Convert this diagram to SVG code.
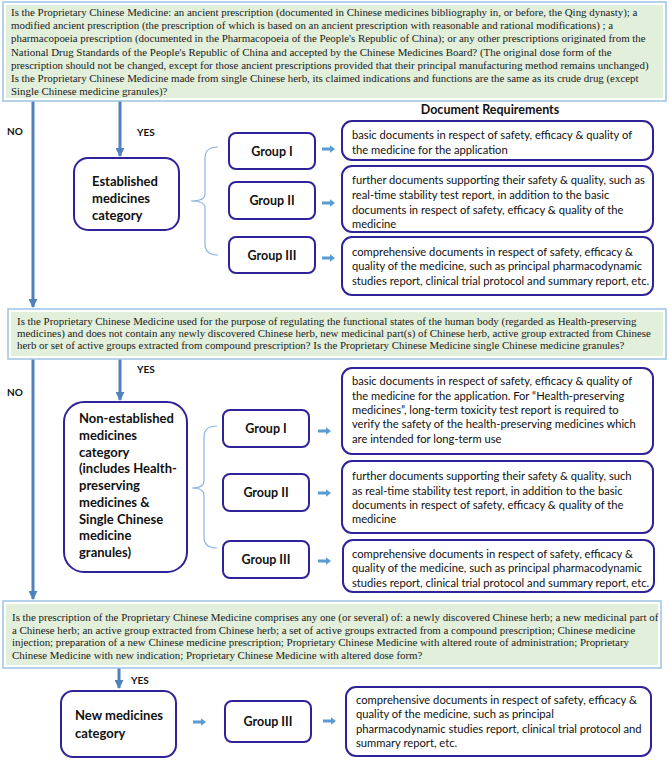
<svg xmlns="http://www.w3.org/2000/svg" width="669" height="760" viewBox="0 0 669 760">
<defs>
<style>
.qb{fill:#ffffff;stroke:#9dc3e6;stroke-width:1.5}
.qf{fill:#e2efda}
.qt{font-family:"Liberation Serif","Times New Roman",serif;font-size:10.9px;fill:#1a1a1a}
.rb{fill:#ffffff;stroke:#2f2399;stroke-width:2}
.bt{font-family:Lato,"Liberation Sans",sans-serif;font-weight:bold;fill:#111}
.cat{font-size:13px}
.grp{font-size:12.5px;text-anchor:middle}
.lbl{font-size:10px}
.dt{font-family:Lato,"Liberation Sans",sans-serif;font-size:11.2px;fill:#111}
.con{stroke:#4f81bd;stroke-width:3;fill:none}
.brace{stroke:#8eb4e3;stroke-width:1.2;fill:none}
</style>
<marker id="ah" viewBox="0 0 10 10" refX="9" refY="5" markerWidth="3" markerHeight="3" orient="auto" markerUnits="strokeWidth">
<path d="M0,0 L10,5 L0,10 z" fill="#4f81bd"/>
</marker>
<path id="ba" d="M0,-1.6 L8,-1.6 L8,-3.8 L13,0 L8,3.8 L8,1.6 L0,1.6 z" fill="#5b9bd5"/>
</defs>
<rect width="669" height="760" fill="#ffffff"/>

<g id="connectors">
<line class="con" x1="33" y1="101" x2="33" y2="307" marker-end="url(#ah)"/>
<line class="con" x1="120" y1="101" x2="120" y2="156" marker-end="url(#ah)"/>
<line class="con" x1="33" y1="359" x2="33" y2="599" marker-end="url(#ah)"/>
<line class="con" x1="120" y1="359" x2="120" y2="400" marker-end="url(#ah)"/>
<line class="con" x1="119" y1="668" x2="119" y2="688" marker-end="url(#ah)"/>
<path class="brace" d="M218,147 Q205,147 205,158 L205,194 Q205,201 191,201 Q205,201 205,208 L205,244 Q205,255 218,255"/>
<path class="brace" d="M217,426 Q204,426 204,437 L204,481 Q204,488 192,488 Q204,488 204,495 L204,537 Q204,548 217,548"/>
<use href="#ba" x="322" y="149"/>
<use href="#ba" x="322" y="203"/>
<use href="#ba" x="322" y="258"/>
<use href="#ba" x="318" y="431"/>
<use href="#ba" x="318" y="493"/>
<use href="#ba" x="318" y="561"/>
<use href="#ba" x="193" y="722"/>
<use href="#ba" x="323" y="721"/>
</g>

<g id="labels">
<text class="bt lbl" x="7" y="135">NO</text>
<text class="bt lbl" x="137" y="136">YES</text>
<text class="bt lbl" x="137" y="373">YES</text>
<text class="bt lbl" x="7" y="396">NO</text>
<text class="bt lbl" x="131" y="684">YES</text>
<text class="bt" x="490" y="114" font-size="12.5" text-anchor="middle">Document Requirements</text>
</g>

<g id="q1">
<rect class="qb" x="3" y="2" width="663" height="99"/>
<rect class="qf" x="6" y="5" width="657" height="93"/>
<text class="qt" x="11" y="16" font-size="11.1">Is the Proprietary Chinese Medicine: an ancient prescription (documented in Chinese medicines bibliography in, or before, the Qing dynasty); a</text>
<text class="qt" x="11" y="29.2" font-size="11.1">modified ancient prescription (the prescription of which is based on an ancient prescription with reasonable and rational modifications) ; a</text>
<text class="qt" x="11" y="42.4" font-size="11.1">pharmacopoeia prescription (documented in the Pharmacopoeia of the People's Republic of China); or any other prescriptions originated from the</text>
<text class="qt" x="11" y="55.6" font-size="11.1">National Drug Standards of the People's Republic of China and accepted by the Chinese Medicines Board? (The original dose form of the</text>
<text class="qt" x="11" y="68.8" font-size="11.1">prescription should not be changed, except for those ancient prescriptions provided that their principal manufacturing method remains unchanged)</text>
<text class="qt" x="11" y="82" font-size="11.1">Is the Proprietary Chinese Medicine made from single Chinese herb, its claimed indications and functions are the same as its crude drug (except</text>
<text class="qt" x="11" y="95.2" font-size="11.1">Single Chinese medicine granules)?</text>
</g>

<g id="established">
<rect class="rb" x="74" y="158" width="105" height="72" rx="14"/>
<text class="bt cat" x="92" y="186">Established</text>
<text class="bt cat" x="92" y="203">medicines</text>
<text class="bt cat" x="92" y="220">category</text>
</g>
<g id="est-g1"><rect class="rb" x="229" y="133" width="86" height="36" rx="7"/><text class="bt grp" x="272" y="155.5">Group I</text></g>
<g id="est-g2"><rect class="rb" x="229" y="182" width="86" height="37" rx="7"/><text class="bt grp" x="272" y="205">Group II</text></g>
<g id="est-g3"><rect class="rb" x="229" y="237" width="86" height="36" rx="7"/><text class="bt grp" x="272" y="259.5">Group III</text></g>
<g id="est-d1"><rect class="rb" x="342" y="121" width="311" height="39" rx="10"/>
<text class="dt" x="352" y="139">basic documents in respect of safety, efficacy &amp; quality of</text>
<text class="dt" x="352" y="154">the medicine for the application</text></g>
<g id="est-d2"><rect class="rb" x="342" y="166" width="311" height="66" rx="10"/>
<text class="dt" x="352" y="184">further documents supporting their safety &amp; quality, such as</text>
<text class="dt" x="352" y="199">real-time stability test report, in addition to the basic</text>
<text class="dt" x="352" y="214">documents in respect of safety, efficacy &amp; quality of the</text>
<text class="dt" x="352" y="228">medicine</text></g>
<g id="est-d3"><rect class="rb" x="342" y="237" width="311" height="58" rx="10"/>
<text class="dt" x="352" y="256">comprehensive documents in respect of safety, efficacy &amp;</text>
<text class="dt" x="352" y="270">quality of the medicine, such as principal pharmacodynamic</text>
<text class="dt" x="352" y="285">studies report, clinical trial protocol and summary report, etc.</text></g>

<g id="q2">
<rect class="qb" x="8" y="309" width="658" height="50"/>
<rect class="qf" x="11" y="312" width="652" height="44"/>
<text class="qt" x="17" y="325">Is the Proprietary Chinese Medicine used for the purpose of regulating the functional states of the human body (regarded as Health-preserving</text>
<text class="qt" x="17" y="337">medicines) and does not contain any newly discovered Chinese herb, new medicinal part(s) of Chinese herb, active group extracted from Chinese</text>
<text class="qt" x="17" y="349">herb or set of active groups extracted from compound prescription?  Is the Proprietary Chinese Medicine single Chinese medicine granules?</text>
</g>

<g id="non-established">
<rect class="rb" x="64" y="402" width="123" height="170" rx="20"/>
<text class="bt cat" x="79" y="423">Non-established</text>
<text class="bt cat" x="79" y="440">medicines</text>
<text class="bt cat" x="79" y="457">category</text>
<text class="bt cat" x="79" y="473">(includes Health-</text>
<text class="bt cat" x="79" y="490">preserving</text>
<text class="bt cat" x="79" y="507">medicines &amp;</text>
<text class="bt cat" x="79" y="524">Single Chinese</text>
<text class="bt cat" x="79" y="540">medicine</text>
<text class="bt cat" x="79" y="557">granules)</text>
</g>
<g id="non-g1"><rect class="rb" x="223" y="410" width="86" height="37" rx="7"/><text class="bt grp" x="266" y="433">Group I</text></g>
<g id="non-g2"><rect class="rb" x="223" y="474" width="86" height="37" rx="7"/><text class="bt grp" x="266" y="497">Group II</text></g>
<g id="non-g3"><rect class="rb" x="223" y="541" width="86" height="37" rx="7"/><text class="bt grp" x="266" y="564">Group III</text></g>
<g id="non-d1"><rect class="rb" x="342" y="368" width="311" height="86" rx="10"/>
<text class="dt" x="352" y="385">basic documents in respect of safety, efficacy &amp; quality of</text>
<text class="dt" x="352" y="400">the medicine for the application. For “Health-preserving</text>
<text class="dt" x="352" y="414">medicines”, long-term toxicity test report is required to</text>
<text class="dt" x="352" y="428">verify the safety of the health-preserving medicines which</text>
<text class="dt" x="352" y="443">are intended for long-term use</text></g>
<g id="non-d2"><rect class="rb" x="342" y="461" width="311" height="72" rx="10"/>
<text class="dt" x="352" y="480">further documents supporting their safety &amp; quality, such</text>
<text class="dt" x="352" y="495">as real-time stability test report, in addition to the basic</text>
<text class="dt" x="352" y="509">documents in respect of safety, efficacy &amp; quality of the</text>
<text class="dt" x="352" y="523">medicine</text></g>
<g id="non-d3"><rect class="rb" x="343" y="540" width="311" height="52" rx="10"/>
<text class="dt" x="352" y="558">comprehensive documents in respect of safety, efficacy &amp;</text>
<text class="dt" x="352" y="572">quality of the medicine, such as principal pharmacodynamic</text>
<text class="dt" x="352" y="587">studies report, clinical trial protocol and summary report, etc.</text></g>

<g id="q3">
<rect class="qb" x="3" y="601" width="658" height="67"/>
<rect class="qf" x="6" y="604" width="652" height="61"/>
<text class="qt" x="12" y="621">Is the prescription of the Proprietary Chinese Medicine comprises any one (or several) of: a newly discovered Chinese herb; a new medicinal part of</text>
<text class="qt" x="12" y="633.5">a Chinese herb; an active group extracted from Chinese herb; a set of active groups extracted from a compound prescription; Chinese medicine</text>
<text class="qt" x="12" y="646">injection; preparation of a new Chinese medicine prescription; Proprietary Chinese Medicine with altered route of administration; Proprietary</text>
<text class="qt" x="12" y="658.5">Chinese Medicine with new indication; Proprietary Chinese Medicine with altered dose form?</text>
</g>

<g id="new-medicines">
<rect class="rb" x="61" y="691" width="115" height="66" rx="12"/>
<text class="bt cat" x="75" y="720">New medicines</text>
<text class="bt cat" x="75" y="738">category</text>
</g>
<g id="new-g3"><rect class="rb" x="225" y="701" width="86" height="41" rx="7"/><text class="bt grp" x="268" y="725.5">Group III</text></g>
<g id="new-d"><rect class="rb" x="346" y="687" width="305" height="69" rx="10"/>
<text class="dt" x="356" y="704">comprehensive documents in respect of safety, efficacy &amp;</text>
<text class="dt" x="356" y="718">quality of the medicine, such as principal</text>
<text class="dt" x="356" y="733">pharmacodynamic studies report, clinical trial protocol and</text>
<text class="dt" x="356" y="747">summary report, etc.</text></g>
</svg>
